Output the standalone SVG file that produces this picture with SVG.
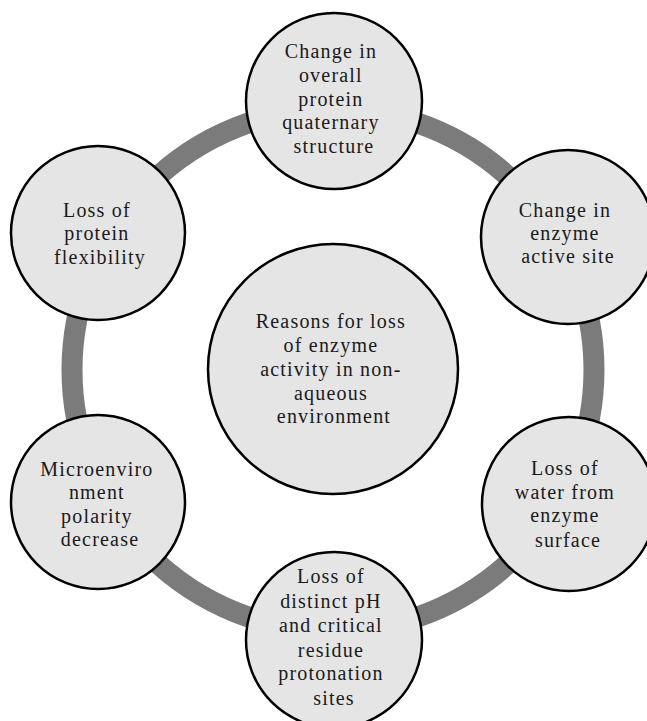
<svg xmlns="http://www.w3.org/2000/svg" width="647" height="721" viewBox="0 0 647 721">
  <style>
    .node { fill: #e5e5e5; stroke: #000; stroke-width: 2.5; }
    .ring { fill: none; stroke: #7b7b7b; stroke-width: 21; }
    .label { font-family: "Liberation Serif", "Times New Roman", serif; font-size: 20px; letter-spacing: 1.2px; fill: #1a1a1a; text-anchor: middle; }
  </style>
  <rect width="647" height="721" fill="#ffffff"/>

  <!-- connecting ring behind the nodes -->
  <g id="connectors">
    <circle class="ring" cx="333" cy="370" r="261"/>
  </g>

  <g id="center">
    <circle class="node" cx="333" cy="369" r="125"/>
    <text class="label">
      <tspan x="334" y="328">Reasons for loss</tspan>
      <tspan x="334" y="352">of enzyme</tspan>
      <tspan x="334" y="376">activity in non-</tspan>
      <tspan x="334" y="400">aqueous</tspan>
      <tspan x="334" y="423">environment</tspan>
    </text>
  </g>

  <g id="quaternary">
    <circle class="node" cx="334" cy="101" r="88"/>
    <text class="label">
      <tspan x="334" y="58">Change in</tspan>
      <tspan x="334" y="82">overall</tspan>
      <tspan x="334" y="106">protein</tspan>
      <tspan x="334" y="129">quaternary</tspan>
      <tspan x="334" y="153">structure</tspan>
    </text>
  </g>

  <g id="active-site">
    <circle class="node" cx="568" cy="237" r="87"/>
    <text class="label">
      <tspan x="568" y="217">Change in</tspan>
      <tspan x="568" y="240">enzyme</tspan>
      <tspan x="568" y="263">active site</tspan>
    </text>
  </g>

  <g id="water-loss">
    <circle class="node" cx="569" cy="504" r="87"/>
    <text class="label">
      <tspan x="568" y="475">Loss of</tspan>
      <tspan x="568" y="499">water from</tspan>
      <tspan x="568" y="522">enzyme</tspan>
      <tspan x="568" y="547">surface</tspan>
    </text>
  </g>

  <g id="protonation">
    <circle class="node" cx="334" cy="640" r="88"/>
    <text class="label">
      <tspan x="334" y="583">Loss of</tspan>
      <tspan x="334" y="608">distinct pH</tspan>
      <tspan x="334" y="632">and critical</tspan>
      <tspan x="334" y="657">residue</tspan>
      <tspan x="334" y="680">protonation</tspan>
      <tspan x="334" y="705">sites</tspan>
    </text>
  </g>

  <g id="polarity">
    <circle class="node" cx="98" cy="502" r="87"/>
    <text class="label">
      <tspan x="100" y="476">Microenviro</tspan>
      <tspan x="100" y="499">nment</tspan>
      <tspan x="100" y="523">polarity</tspan>
      <tspan x="100" y="546">decrease</tspan>
    </text>
  </g>

  <g id="flexibility">
    <circle class="node" cx="98" cy="233" r="87"/>
    <text class="label">
      <tspan x="100" y="217">Loss of</tspan>
      <tspan x="100" y="240">protein</tspan>
      <tspan x="100" y="264">flexibility</tspan>
    </text>
  </g>
</svg>
